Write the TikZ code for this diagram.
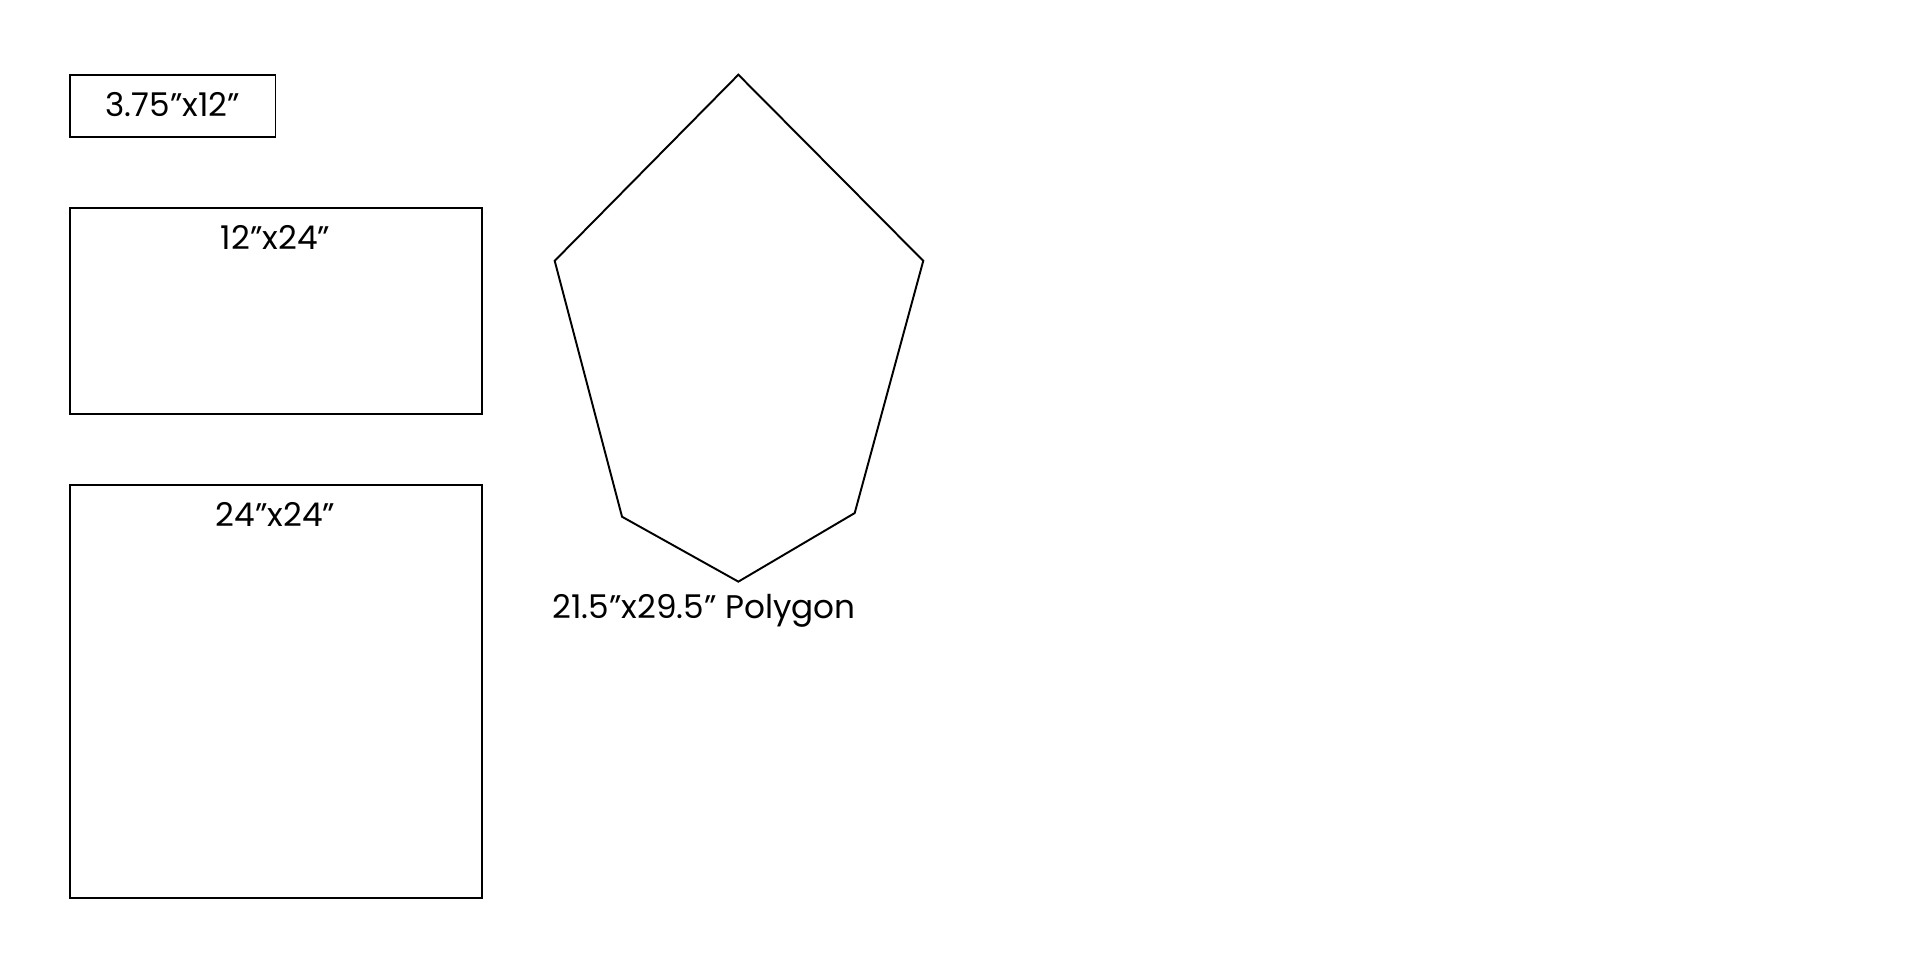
\documentclass[tikz,border=0pt]{standalone}
\usepackage{fontspec}
\setmainfont{Poppins}
\begin{document}
\begin{tikzpicture}[x=0.1mm,y=-0.1mm,
  outline/.style={draw=black, line width=0.45pt, line join=miter},
  lbl/.style={font=\fontsize{7.6}{8}\selectfont, inner sep=0pt, anchor=base}]
\useasboundingbox (0,0) rectangle (1568,784);
\draw[outline] (57,61) rectangle (225,112);
\draw[outline] (57,170) rectangle (394,338);
\draw[outline] (57,396) rectangle (394,733);
\draw[outline] (603,61) -- (754,213) -- (698,419) -- (603,475) -- (508,422) -- (453,213) -- cycle;
\node[lbl] (t1) at (141,95) {3.75''x12''};
\node[lbl] (t2) at (225,204) {12''x24''};
\node[lbl] (t3) at (225,430) {24''x24''};
\node[lbl] (t4) at (575,505) {21.5''x29.5'' Polygon};
\end{tikzpicture}
\end{document}
